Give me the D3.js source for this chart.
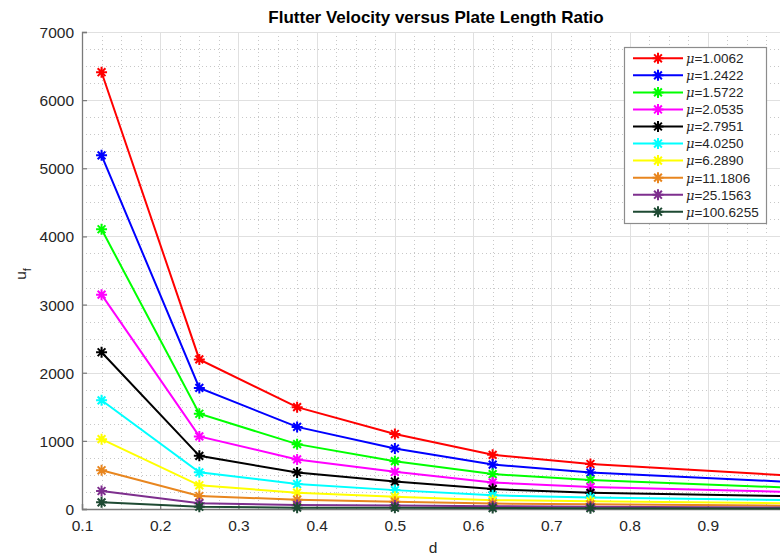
<!DOCTYPE html>
<html>
<head>
<meta charset="utf-8">
<script src="https://cdn.jsdelivr.net/npm/d3@7"></script>
<style>
  body { margin: 0; background: #fff; }
  svg { display: block; font-family: "Liberation Sans", Arial, sans-serif; }
</style>
</head>
<body>
<svg id="chart" width="780" height="556"></svg>
<script>
// plate length ratio d
var dValues = [0.125, 0.25, 0.375, 0.5, 0.625, 0.75, 1.0];

var muLabels = ['1.0062', '1.2422', '1.5722', '2.0535', '2.7951', '4.0250', '6.2890', '11.1806', '25.1563', '100.6255'];
var colors = ['#ff0000', '#0000ff', '#00ff00', '#ff00ff', '#000000', '#00ffff', '#ffff00', '#e8861f', '#7e2f8e', '#1e4a33'];

// flutter velocity u_f, one row per mu
var uf_10062   = [6410, 2195, 1495, 1100, 795, 660, 494];
var uf_12422   = [5190, 1777, 1205, 888, 652, 535, 400];
var uf_15722   = [4105, 1398, 952, 702, 512, 424, 316];
var uf_20535   = [3145, 1065, 728, 545, 390, 322, 252];
var uf_27951   = [2300, 780, 536, 403, 292, 237, 189];
var uf_40250   = [1595, 538, 367, 277, 200, 168, 131];
var uf_62890   = [1025, 348, 239, 180, 130, 112, 84];
var uf_111806  = [568, 191, 135, 107, 80, 68, 48];
var uf_251563  = [264, 86, 60, 50, 40, 32, 22];
var uf_1006255 = [98, 33, 20, 18, 14, 11, 8];

var series = [uf_10062, uf_12422, uf_15722, uf_20535, uf_27951, uf_40250, uf_62890, uf_111806, uf_251563, uf_1006255];

var xTicks = [0.1, 0.2, 0.3, 0.4, 0.5, 0.6, 0.7, 0.8, 0.9, 1.0];
var yTicks = [0, 1000, 2000, 3000, 4000, 5000, 6000, 7000];

var pLeft = 82, pRight = 786, pTop = 32, pBottom = 509;

var svg = d3.select('#chart');

var x = d3.scaleLinear().domain([0.1, 1.0]).range([pLeft, pRight]);
var y = d3.scaleLinear().domain([0, 7000]).range([pBottom, pTop]);

var grid = svg.append('g').attr('class', 'grid');

// minor grid, dotted
var xMinor = d3.range(0.1, 1.0001, 0.025).filter(function(v) { return Math.abs(v * 10 - Math.round(v * 10)) > 1e-6; });
var yMinor = d3.range(0, 7001, 250).filter(function(v) { return v % 1000 !== 0; });

grid.selectAll('.xminor').data(xMinor).enter().append('line')
  .attr('x1', function(d) { return Math.round(x(d)) + 0.5; })
  .attr('x2', function(d) { return Math.round(x(d)) + 0.5; })
  .attr('y1', pTop).attr('y2', pBottom)
  .attr('stroke', '#c8c8c8').attr('stroke-width', 1).attr('stroke-dasharray', '1,3');

grid.selectAll('.yminor').data(yMinor).enter().append('line')
  .attr('y1', function(d) { return Math.round(y(d)) + 0.5; })
  .attr('y2', function(d) { return Math.round(y(d)) + 0.5; })
  .attr('x1', pLeft).attr('x2', pRight)
  .attr('stroke', '#c8c8c8').attr('stroke-width', 1).attr('stroke-dasharray', '1,3');

// major grid
grid.selectAll('.xmajor').data(xTicks).enter().append('line')
  .attr('x1', function(d) { return Math.round(x(d)) + 0.5; })
  .attr('x2', function(d) { return Math.round(x(d)) + 0.5; })
  .attr('y1', pTop).attr('y2', pBottom)
  .attr('stroke', '#e0e0e0').attr('stroke-width', 1);

grid.selectAll('.ymajor').data(yTicks).enter().append('line')
  .attr('y1', function(d) { return Math.round(y(d)) + 0.5; })
  .attr('y2', function(d) { return Math.round(y(d)) + 0.5; })
  .attr('x1', pLeft).attr('x2', pRight)
  .attr('stroke', '#e0e0e0').attr('stroke-width', 1);

// axes (ticks point inwards, like matlab)
var xAxis = svg.append('g')
  .attr('transform', 'translate(0,' + pBottom + ')')
  .call(d3.axisBottom(x).tickValues(xTicks.slice(0, 9)).tickSize(-5).tickPadding(11).tickFormat(d3.format('.1f')));
var yAxis = svg.append('g')
  .attr('transform', 'translate(' + pLeft + ',0)')
  .call(d3.axisLeft(y).tickValues(yTicks).tickSize(-5).tickPadding(8).tickFormat(d3.format('d')));

[xAxis, yAxis].forEach(function(a) {
  a.select('.domain').attr('stroke', '#7a7a7a').attr('stroke-width', 1.3);
  a.selectAll('.tick line').attr('stroke', '#7a7a7a').attr('stroke-width', 1.2);
  a.selectAll('.tick text').attr('fill', '#262626').style('font-size', '15.5px')
    .style('font-family', '"Liberation Sans", Arial, sans-serif');
});
yAxis.selectAll('.tick text').attr('dy', '0.35em');

// asterisk marker
function asterisk(s) {
  var a = s * 0.7071;
  return 'M' + (-s) + ',0L' + s + ',0M0,' + (-s) + 'L0,' + s +
    'M' + (-a) + ',' + (-a) + 'L' + a + ',' + a + 'M' + (-a) + ',' + a + 'L' + a + ',' + (-a);
}

var line = d3.line()
  .x(function(d, i) { return x(dValues[i]); })
  .y(function(d) { return y(d); });

var plot = svg.append('g').attr('class', 'series');

series.forEach(function(vals, k) {
  var g = plot.append('g');
  g.append('path')
    .attr('d', line(vals))
    .attr('fill', 'none')
    .attr('stroke', colors[k])
    .attr('stroke-width', 2);
  g.selectAll('path.mk').data(vals).enter().append('path')
    .attr('class', 'mk')
    .attr('transform', function(d, i) { return 'translate(' + x(dValues[i]) + ',' + y(d) + ')'; })
    .attr('d', asterisk(5.5))
    .attr('fill', 'none')
    .attr('stroke', colors[k])
    .attr('stroke-width', 2);
});

// title and labels
svg.append('text')
  .attr('x', 436).attr('y', 23)
  .attr('text-anchor', 'middle')
  .style('font-size', '17px').style('font-weight', 'bold')
  .attr('fill', '#000')
  .text('Flutter Velocity versus Plate Length Ratio');

svg.append('text')
  .attr('x', 433).attr('y', 553)
  .attr('text-anchor', 'middle')
  .style('font-size', '15.5px')
  .attr('fill', '#262626')
  .text('d');

var yl = svg.append('text')
  .attr('transform', 'translate(26,274) rotate(-90)')
  .attr('text-anchor', 'middle')
  .style('font-size', '15.5px')
  .attr('fill', '#262626');
yl.append('tspan').text('u');
yl.append('tspan').attr('dy', 5).style('font-size', '11px').text('f');

// legend
var lg = svg.append('g').attr('transform', 'translate(624,47)');
lg.append('rect')
  .attr('x', 0.5).attr('y', 0.5)
  .attr('width', 142).attr('height', 176)
  .attr('fill', '#fff')
  .attr('stroke', '#8c8c8c').attr('stroke-width', 1.2);

var rows = lg.selectAll('g.row').data(muLabels).enter().append('g')
  .attr('class', 'row')
  .attr('transform', function(d, i) { return 'translate(0,' + (11.3 + i * 17.05) + ')'; });

rows.append('line')
  .attr('x1', 9).attr('x2', 59).attr('y1', 0).attr('y2', 0)
  .attr('stroke', function(d, i) { return colors[i]; })
  .attr('stroke-width', 2);
rows.append('path')
  .attr('transform', 'translate(34,0)')
  .attr('d', asterisk(5.5))
  .attr('fill', 'none')
  .attr('stroke', function(d, i) { return colors[i]; })
  .attr('stroke-width', 2);

var lt = rows.append('text')
  .attr('x', 62).attr('y', 0).attr('dy', '0.36em')
  .style('font-size', '13.5px')
  .attr('fill', '#262626');
lt.append('tspan')
  .style('font-family', '"DejaVu Serif", "Liberation Serif", serif')
  .style('font-style', 'italic')
  .style('font-size', '13px')
  .text('\u03bc');
lt.append('tspan').text(function(d) { return '=' + d; });
</script>
</body>
</html>
